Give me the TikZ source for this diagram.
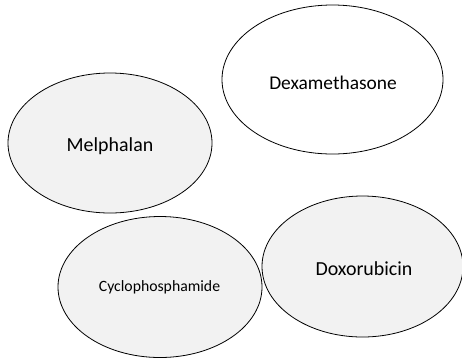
\documentclass[tikz,border=0pt]{standalone}
\usepackage{fontspec}
\setmainfont{Carlito}
\usetikzlibrary{shapes.geometric}
\definecolor{lightfill}{HTML}{F2F2F2}
\tikzset{
  drug/.style={draw=black, line width=0.8bp, ellipse, inner sep=0pt},
  grayd/.style={drug, fill=lightfill},
  whited/.style={drug, fill=white},
}
\begin{document}
\begin{tikzpicture}[x=1bp,y=-1bp]
\useasboundingbox (0,0) rectangle (462,358);
\node[whited, minimum width=221bp, minimum height=149bp] (dex) at (332.5,79.5) {};
\node[font=\fontsize{19.5}{22}\selectfont] (dext) at (333,83) {Dexamethasone};
\node[grayd, minimum width=204bp, minimum height=140bp] (mel) at (110,143) {};
\node[font=\fontsize{20}{22}\selectfont] (melt) at (110,146) {Melphalan};
\node[grayd, minimum width=204bp, minimum height=141bp] (cyc) at (160,287) {};
\node[font=\fontsize{15.8}{18}\selectfont] (cyct) at (159.5,287.5) {Cyclophosphamide};
\node[grayd, minimum width=201bp, minimum height=141bp] (dox) at (362.5,266.5) {};
\node[font=\fontsize{20}{22}\selectfont] (doxt) at (364,269) {Doxorubicin};
\end{tikzpicture}
\end{document}
